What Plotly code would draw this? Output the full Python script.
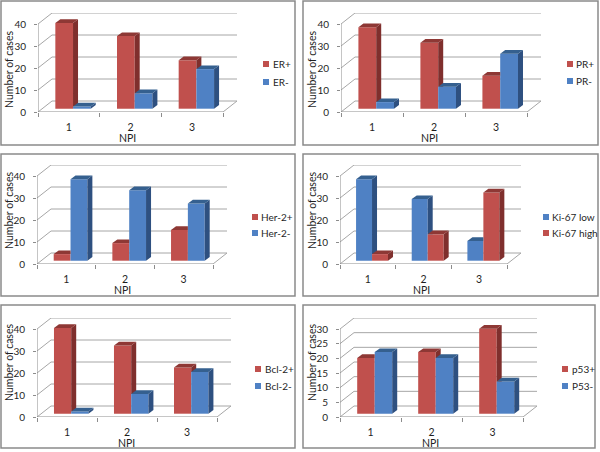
import plotly.graph_objects as go

categories = [1, 2, 3]

er_pos = [39, 33, 22]
er_neg = [1, 7, 18]
pr_pos = [37, 30, 15]
pr_neg = [3, 10, 25]
her_pos = [3, 8, 14]
her_neg = [37, 32, 26]
ki_low = [37, 28, 9]
ki_high = [3, 12, 31]
bcl_pos = [39, 31, 21]
bcl_neg = [1, 9, 19]
p53_pos = [19, 21, 29]
p53_neg = [21, 19, 11]

ticks_40 = [0, 10, 20, 30, 40]
ticks_30 = [0, 5, 10, 15, 20, 25, 30]

RED = dict(front="#C0504D", side="#7F2F2D", top="#8E3835")
BLUE = dict(front="#4F81C4", side="#2E5080", top="#35608F")

W, H = 600, 452
FONT = "Lato"
TXT = "#1f1f1f"
GRID = "#a6a6a6"
AXIS = "#8c8c8c"
DX, DY = 14, 11           # wall depth in px
BAR_SHIFT = (4.2, 3.3)    # bar position inside the floor in px
BAR_DEPTH = (5.0, 3.7)    # bar depth in px
BAR_W = 0.287             # bar width in category units

panels = [
    dict(series=[("ER+", er_pos, RED), ("ER-", er_neg, BLUE)], ticks=ticks_40,
         frame=(1, 1, 295, 145), x=(38, 223), y=(112, 24), leg=(263, 271, 64, 82), ytitle=(9, 70), xtitle=(127, 138), xlab=125),
    dict(series=[("PR+", pr_pos, RED), ("PR-", pr_neg, BLUE)], ticks=ticks_40,
         frame=(303, 1, 598, 145), x=(341, 527), y=(112, 24), leg=(567, 574, 64, 81), ytitle=(312, 70), xtitle=(429, 138), xlab=125),
    dict(series=[("Her-2+", her_pos, RED), ("Her-2-", her_neg, BLUE)], ticks=ticks_40,
         frame=(1, 154, 295, 296), x=(37, 213), y=(264, 176), leg=(252, 259, 217, 233), ytitle=(9, 211), xtitle=(123, 290), xlab=277),
    dict(series=[("Ki-67 low", ki_low, BLUE), ("Ki-67 high", ki_high, RED)], ticks=ticks_40,
         frame=(303, 154, 598, 296), x=(340, 507), y=(264, 176), leg=(543, 550, 217, 233), ytitle=(312, 211), xtitle=(421, 290), xlab=277),
    dict(series=[("Bcl-2+", bcl_pos, RED), ("Bcl-2-", bcl_neg, BLUE)], ticks=ticks_40,
         frame=(1, 305, 295, 448), x=(37, 217), y=(417, 329), leg=(255, 263, 369, 386), ytitle=(9, 363), xtitle=(126, 443), xlab=430),
    dict(series=[("p53+", p53_pos, RED), ("P53-", p53_neg, BLUE)], ticks=ticks_30,
         frame=(303, 305, 595, 448), x=(340, 523), y=(417, 329), leg=(562, 570, 369, 386), ytitle=(312, 363), xtitle=(430, 443), xlab=430),
]

fig = go.Figure()
shapes, annotations = [], []


def px(x):
    return x / W


def py(y):
    return 1 - y / H


for i, p in enumerate(panels, start=1):
    xname, yname = ("x", "y") if i == 1 else (f"x{i}", f"y{i}")
    xlay, ylay = ("xaxis", "yaxis") if i == 1 else (f"xaxis{i}", f"yaxis{i}")
    x0, x1 = p["x"]
    y0, yt = p["y"]
    vmax = p["ticks"][-1]
    ux = (x1 - x0) / 3            # px per category
    uy = (y0 - yt) / vmax         # px per value unit
    wall_dx, wall_dy = DX / ux, DY / uy
    shift_x, base = BAR_SHIFT[0] / ux, BAR_SHIFT[1] / uy
    bdx, bdy = BAR_DEPTH[0] / ux, BAR_DEPTH[1] / uy

    fig.layout[xlay] = dict(
        domain=[px(x0), px(x1 + DX)], range=[0.5, 3.5 + wall_dx], anchor=yname,
        tickmode="array", tickvals=categories, ticks="", showgrid=False, zeroline=False,
        showline=False, automargin=False, ticklabelstandoff=p["xlab"] - y0 - 6,
        tickfont=dict(family=FONT, size=10.5, color=TXT),
        minor=dict(tickmode="array", tickvals=[0.5, 1.5, 2.5, 3.5], ticks="outside",
                   ticklen=4, tickcolor=AXIS, tickwidth=1),
    )
    fig.layout[ylay] = dict(
        domain=[py(y0), py(yt - DY)], range=[0, vmax + wall_dy], anchor=xname,
        tickmode="array", tickvals=p["ticks"], ticks="outside", ticklen=3, tickcolor=AXIS,
        showgrid=False, zeroline=False, showline=False, automargin=False, ticklabelstandoff=6,
        tickfont=dict(family=FONT, size=10, color=TXT),
    )

    def seg(a, b, c, d, color=GRID):
        shapes.append(dict(type="line", xref=xname, yref=yname, x0=a, y0=b, x1=c, y1=d,
                           line=dict(color=color, width=1), layer="below"))

    # walls and floor
    for v in p["ticks"]:
        seg(0.5, v, 0.5 + wall_dx, v + wall_dy)
        seg(0.5 + wall_dx, v + wall_dy, 3.5 + wall_dx, v + wall_dy)
    seg(3.5, 0, 3.5 + wall_dx, wall_dy)
    # front axes
    seg(0.5, 0, 0.5, vmax, AXIS)
    seg(0.5, 0, 3.5, 0, AXIS)

    (n1, v1, c1), (n2, v2, c2) = p["series"]
    left = [c - BAR_W + shift_x for c in categories]
    mid = [c + shift_x for c in categories]

    # front faces, as bars on the axis scale
    fig.add_trace(go.Bar(x=left, y=v1, base=base, width=BAR_W, offset=0, name=n1,
                         marker=dict(color=c1["front"], line=dict(width=0)),
                         xaxis=xname, yaxis=yname, showlegend=False))
    fig.add_trace(go.Bar(x=mid, y=v2, base=base, width=BAR_W, offset=0, name=n2,
                         marker=dict(color=c2["front"], line=dict(width=0)),
                         xaxis=xname, yaxis=yname, showlegend=False))

    def poly(xs, ys, color, name):
        fig.add_trace(go.Scatter(x=xs, y=ys, mode="lines", fill="toself", fillcolor=color,
                                 line=dict(width=0), hoverinfo="skip", name=name,
                                 xaxis=xname, yaxis=yname, showlegend=False))

    # first series: depth faces, cut where the second series stands in front
    sx, sy, tx, ty = [], [], [], []
    for xl, xm, a, b in zip(left, mid, v1, v2):
        if a > b:
            low_r = max(base + b, base + bdy)
            sx += [xm, xm + bdx, xm + bdx, xm, xm, None]
            sy += [base + b, low_r, base + a + bdy, base + a, base + b, None]
            tx += [xl, xm, xm + bdx, xl + bdx, xl, None]
            ty += [base + a, base + a, base + a + bdy, base + a + bdy, base + a, None]
        else:
            tx += [xl, xm, xm, xl + bdx, xl, None]
            ty += [base + a, base + a, base + a + bdy, base + a + bdy, base + a, None]
    poly(sx, sy, c1["side"], n1 + " side")
    poly(tx, ty, c1["top"], n1 + " top")

    # second series: depth faces
    sx, sy, tx, ty = [], [], [], []
    for xm, b in zip(mid, v2):
        xr = xm + BAR_W
        sx += [xr, xr + bdx, xr + bdx, xr, xr, None]
        sy += [base, base + bdy, base + b + bdy, base + b, base, None]
        tx += [xm, xr, xr + bdx, xm + bdx, xm, None]
        ty += [base + b, base + b, base + b + bdy, base + b + bdy, base + b, None]
    poly(sx, sy, c2["side"], n2 + " side")
    poly(tx, ty, c2["top"], n2 + " top")

    # frame
    fx0, fy0, fx1, fy1 = p["frame"]
    shapes.append(dict(type="rect", xref="paper", yref="paper", x0=px(fx0), x1=px(fx1),
                       y0=py(fy1), y1=py(fy0), line=dict(color="#8a8a8a", width=1.5), layer="below"))

    # legend
    sqx, txx, ly1, ly2 = p["leg"]
    for (name, _, col), ly in zip(p["series"], (ly1, ly2)):
        shapes.append(dict(type="rect", xref="paper", yref="paper", x0=px(sqx), x1=px(sqx + 6),
                           y0=py(ly + 3), y1=py(ly - 3), line=dict(width=0), fillcolor=col["front"]))
        annotations.append(dict(xref="paper", yref="paper", x=px(txx), y=py(ly), text=name,
                                showarrow=False, xanchor="left", yanchor="middle",
                                font=dict(family=FONT, size=10, color=TXT)))

    # axis titles
    annotations.append(dict(xref="paper", yref="paper", x=px(p["ytitle"][0]), y=py(p["ytitle"][1]),
                            text="Number of cases", textangle=-90, showarrow=False,
                            xanchor="center", yanchor="middle",
                            font=dict(family=FONT, size=10.5, color=TXT)))
    annotations.append(dict(xref="paper", yref="paper", x=px(p["xtitle"][0]), y=py(p["xtitle"][1]),
                            text="NPI", showarrow=False, xanchor="center", yanchor="middle",
                            font=dict(family=FONT, size=10.5, color=TXT)))

fig.update_layout(
    width=W, height=H, margin=dict(l=0, r=0, t=0, b=0), autosize=False,
    paper_bgcolor="white", plot_bgcolor="rgba(0,0,0,0)",
    barmode="overlay", showlegend=False, shapes=shapes, annotations=annotations,
)

fig.write_html("out.html", config=dict(displayModeBar=False),
               post_script="document.body.style.margin='0';")
